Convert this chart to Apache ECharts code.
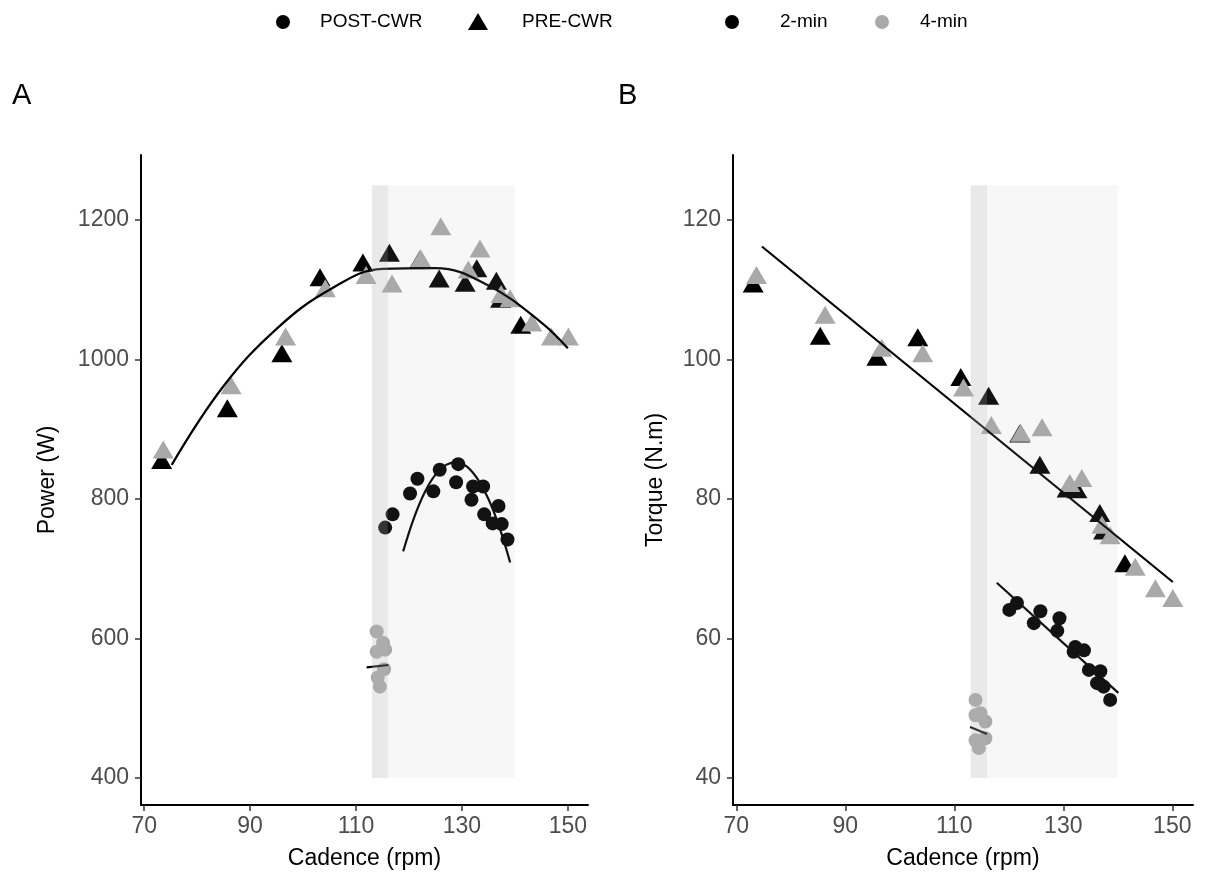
<!DOCTYPE html>
<html>
<head>
<meta charset="utf-8">
<script src="https://cdn.jsdelivr.net/npm/echarts@6/dist/echarts.min.js"></script>
<style>
html,body{margin:0;padding:0;background:#fff;}
#chart{width:1209px;height:878px;}
</style>
</head>
<body>
<div id="chart"></div>
<script>
// ---------- tick labels ----------
const cadenceTicks = [70, 90, 110, 130, 150];
const powerTicks = [400, 600, 800, 1000, 1200];
const torqueTicks = [40, 60, 80, 100, 120];

// ---------- shaded cadence zones ----------
const bandDark = [113, 116];
const bandLight = [116, 140];
const bandPower = [400, 1250];
const bandTorque = [40, 125];

// ---------- Panel A : Power (W) ----------
// PRE-CWR, 2-min (black triangles)
const preA2_cad = [73.3, 85.7, 96.0, 103.2, 111.3, 116.3, 122.0, 125.7, 130.6, 132.8, 136.5, 137.3, 141.1];
const preA2_pow = [856, 930, 1009, 1118, 1139, 1153, 1143, 1116, 1110, 1131, 1113, 1087, 1050];
// PRE-CWR, 4-min (grey triangles)
const preA4_cad = [73.6, 86.4, 96.7, 104.2, 111.9, 116.8, 122.2, 126.0, 131.2, 133.4, 137.4, 139.1, 143.2, 146.9, 150.1];
const preA4_pow = [871, 963, 1033, 1102, 1121, 1109, 1145, 1191, 1129, 1159, 1094, 1088, 1053, 1033, 1033];
// POST-CWR, 2-min (black circles)
const postA2_cad = [115.5, 116.9, 120.2, 121.6, 124.6, 125.8, 129.3, 128.9, 132.1, 131.8, 134.0, 134.2, 136.9, 135.8, 137.5, 138.6];
const postA2_pow = [759, 778, 808, 829, 811, 842, 850, 824, 818, 799, 818, 778, 790, 765, 764, 742];
// POST-CWR, 4-min (grey circles)
const postA4_cad = [113.9, 115.1, 113.9, 115.5, 115.3, 114.1, 114.5];
const postA4_pow = [610, 594, 581, 584, 556, 544, 531];
// fitted curves
const fitPreA_cad = [75.2, 85, 95, 105, 115, 125, 135, 145, 150];
const fitPreA_pow = [849, 962, 1044, 1100, 1130, 1131, 1106, 1053, 1016];
const fitPostA2_cad = [118.9, 121, 123, 125, 127, 129, 131, 133, 135, 137, 139.1];
const fitPostA2_pow = [725, 774, 810, 835, 849, 853, 846, 828, 800, 761, 709];
const fitPostA4_cad = [112.0, 116.1];
const fitPostA4_pow = [558.7, 562.0];

// ---------- Panel B : Torque (N.m) ----------
const preB2_cad = [73.1, 85.4, 95.8, 103.3, 111.2, 116.3, 122.0, 125.7, 130.7, 132.5, 136.7, 137.4, 141.3];
const preB2_tq = [110.9, 103.4, 100.4, 103.2, 97.5, 94.8, 89.4, 84.9, 81.5, 81.4, 78.0, 75.5, 70.8];
const preB4_cad = [73.7, 86.3, 96.7, 104.2, 111.7, 116.8, 122.2, 126.1, 131.2, 133.4, 137.1, 138.6, 143.2, 146.9, 150.1];
const preB4_tq = [112.1, 106.4, 101.7, 100.9, 96.0, 90.6, 89.5, 90.3, 82.3, 83.0, 76.3, 74.8, 70.3, 67.2, 65.8];
const postB2_cad = [120.1, 121.5, 124.6, 125.8, 129.3, 128.9, 132.2, 131.9, 133.8, 134.7, 136.8, 136.2, 137.4, 138.6];
const postB2_tq = [64.1, 65.1, 62.2, 63.9, 62.9, 61.1, 58.8, 58.1, 58.3, 55.5, 55.3, 53.6, 53.1, 51.2];
const postB4_cad = [113.9, 114.8, 113.9, 115.7, 115.7, 113.9, 114.5];
const postB4_tq = [51.2, 49.3, 49.0, 48.1, 45.7, 45.4, 44.3];
const fitPreB_cad = [74.7, 150.1];
const fitPreB_tq = [116.2, 68.1];
const fitPostB2_cad = [117.8, 140.1];
const fitPostB2_tq = [68.0, 52.2];
const fitPostB4_cad = [112.9, 116.0];
const fitPostB4_tq = [47.3, 46.3];

// ---------- build ----------
const zip = (xs, ys) => xs.map((x, i) => [x, ys[i]]);
const FONT = '"Liberation Sans", Arial, Helvetica, sans-serif';
const BLACK = '#000000';
const GREY = '#a9a9a9';
const TICK_FS = 23;
const TITLE_FS = 23;

function axisX(gi) {
  return {
    type: 'value', gridIndex: gi, min: 69.4, max: 153.8,
    name: 'Cadence (rpm)', nameLocation: 'middle', nameGap: 42,
    nameTextStyle: {color: '#000', fontSize: TITLE_FS, fontFamily: FONT},
    axisLine: {show: true, onZero: false, lineStyle: {color: '#000', width: 2}},
    axisTick: {show: true, length: 6, customValues: cadenceTicks, lineStyle: {color: '#333', width: 1.5}},
    axisLabel: {color: '#4d4d4d', fontSize: TICK_FS, fontFamily: FONT, margin: 10, customValues: cadenceTicks,
                formatter: v => String(v)},
    splitLine: {show: false}
  };
}
function axisY(gi, name, min, max, ticks, gap) {
  return {
    type: 'value', gridIndex: gi, min: min, max: max,
    name: name, nameLocation: 'middle', nameGap: gap,
    nameTextStyle: {color: '#000', fontSize: TITLE_FS, fontFamily: FONT},
    axisLine: {show: true, onZero: false, lineStyle: {color: '#000', width: 2}},
    axisTick: {show: true, length: 6, customValues: ticks, lineStyle: {color: '#333', width: 1.5}},
    axisLabel: {color: '#4d4d4d', fontSize: TICK_FS, fontFamily: FONT, margin: 12, customValues: ticks,
                formatter: v => String(v)},
    splitLine: {show: false}
  };
}

function bandSeries(gi, yr) {
  const cols = ['rgba(178,178,178,0.29)', 'rgba(178,178,178,0.10)'];
  return {
    type: 'custom', xAxisIndex: gi, yAxisIndex: gi, silent: true, z: 6,
    encode: {x: [0, 1], y: [2, 3]},
    data: [[bandDark[0], bandDark[1], yr[0], yr[1]], [bandLight[0], bandLight[1], yr[0], yr[1]]],
    renderItem: function (params, api) {
      const p0 = api.coord([api.value(0), api.value(3)]);
      const p1 = api.coord([api.value(1), api.value(2)]);
      return {type: 'rect', shape: {x: p0[0], y: p0[1], width: p1[0] - p0[0], height: p1[1] - p0[1]},
              style: {fill: cols[params.dataIndex]}};
    }
  };
}
function pts(gi, xs, ys, shape, color) {
  return {
    type: 'scatter', xAxisIndex: gi, yAxisIndex: gi, z: 2, silent: true,
    symbol: shape, symbolSize: shape === 'triangle' ? [21, 18] : 14,
    itemStyle: {color: color, opacity: 1},
    data: zip(xs, ys)
  };
}
function fit(gi, xs, ys) {
  return {
    type: 'line', xAxisIndex: gi, yAxisIndex: gi, z: 4, silent: true,
    showSymbol: false, smooth: xs.length > 2 ? 0.4 : false,
    lineStyle: {color: '#000', width: 2.2},
    data: zip(xs, ys)
  };
}

const chart = echarts.init(document.getElementById('chart'), null, {renderer: 'canvas'});
const option = {
  animation: false,
  backgroundColor: '#ffffff',
  grid: [
    {left: 141, top: 155, width: 447, height: 650},
    {left: 733, top: 155, width: 460, height: 650}
  ],
  xAxis: [axisX(0), axisX(1)],
  yAxis: [
    axisY(0, 'Power (W)', 361.3, 1293.2, powerTicks, 82),
    axisY(1, 'Torque (N.m)', 36.13, 129.32, torqueTicks, 66)
  ],
  series: [
    pts(0, preA2_cad, preA2_pow, 'triangle', BLACK),
    pts(0, preA4_cad, preA4_pow, 'triangle', GREY),
    pts(0, postA2_cad, postA2_pow, 'circle', BLACK),
    pts(0, postA4_cad, postA4_pow, 'circle', GREY),
    fit(0, fitPreA_cad, fitPreA_pow),
    fit(0, fitPostA2_cad, fitPostA2_pow),
    fit(0, fitPostA4_cad, fitPostA4_pow),
    bandSeries(0, bandPower),
    pts(1, preB2_cad, preB2_tq, 'triangle', BLACK),
    pts(1, preB4_cad, preB4_tq, 'triangle', GREY),
    pts(1, postB2_cad, postB2_tq, 'circle', BLACK),
    pts(1, postB4_cad, postB4_tq, 'circle', GREY),
    fit(1, fitPreB_cad, fitPreB_tq),
    fit(1, fitPostB2_cad, fitPostB2_tq),
    fit(1, fitPostB4_cad, fitPostB4_tq),
    bandSeries(1, bandTorque)
  ],
  graphic: [
    {type: 'text', left: 12, top: 81, style: {text: 'A', fontSize: 29, fontFamily: FONT, fill: '#000'}},
    {type: 'text', left: 618, top: 81, style: {text: 'B', fontSize: 29, fontFamily: FONT, fill: '#000'}},
    // legend: shape
    {type: 'circle', shape: {cx: 283, cy: 22, r: 7}, style: {fill: '#000'}},
    {type: 'text', x: 320, y: 22, style: {text: 'POST-CWR', fontSize: 19, fontFamily: FONT, fill: '#000', verticalAlign: 'middle'}},
    {type: 'polygon', shape: {points: [[468, 30], [488, 30], [478, 13]]}, style: {fill: '#000'}},
    {type: 'text', x: 522, y: 22, style: {text: 'PRE-CWR', fontSize: 19, fontFamily: FONT, fill: '#000', verticalAlign: 'middle'}},
    // legend: colour
    {type: 'circle', shape: {cx: 732, cy: 22, r: 7}, style: {fill: '#000'}},
    {type: 'text', x: 780, y: 22, style: {text: '2-min', fontSize: 19, fontFamily: FONT, fill: '#000', verticalAlign: 'middle'}},
    {type: 'circle', shape: {cx: 882, cy: 22, r: 7}, style: {fill: GREY}},
    {type: 'text', x: 920, y: 22, style: {text: '4-min', fontSize: 19, fontFamily: FONT, fill: '#000', verticalAlign: 'middle'}}
  ]
};
chart.setOption(option);
</script>
</body>
</html>
